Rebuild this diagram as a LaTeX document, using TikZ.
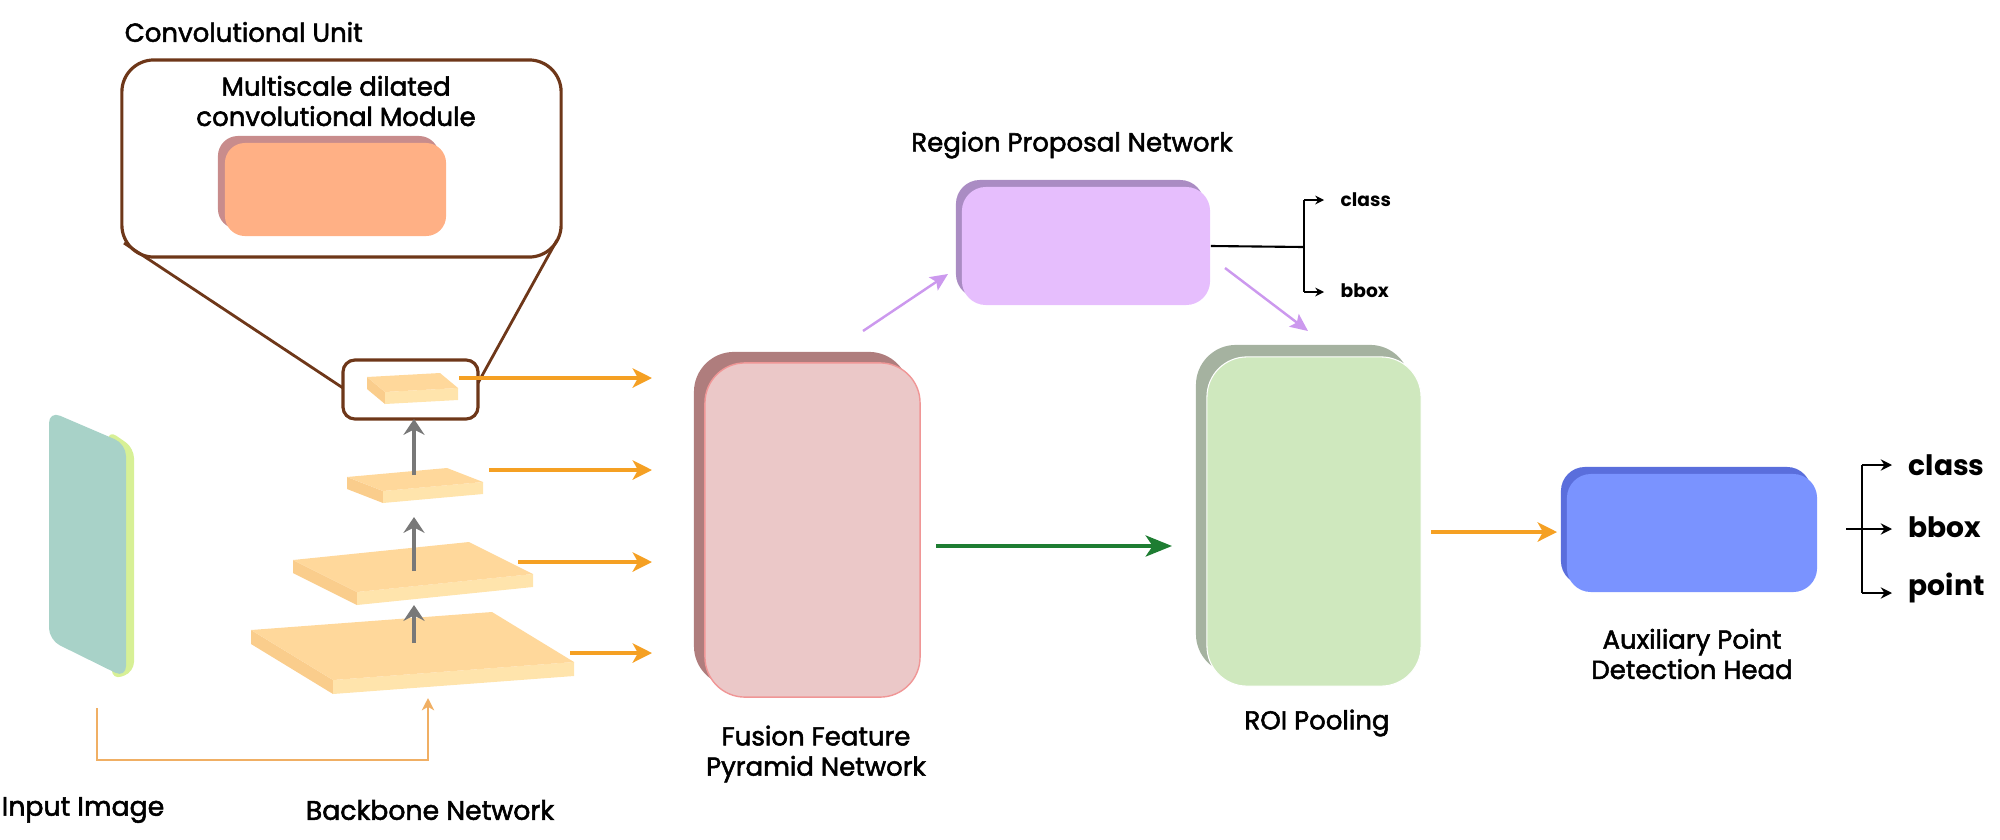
\documentclass[tikz,border=0pt]{standalone}
\usepackage{fontspec}
\setmainfont{Poppins}
\newfontfamily\medfont{Poppins}[FakeBold=2]
\usetikzlibrary{arrows.meta,calc}
\definecolor{brownl}{RGB}{110,55,25}
\definecolor{orarr}{RGB}{245,160,35}
\definecolor{orthin}{RGB}{240,175,100}
\definecolor{grayarr}{RGB}{120,120,120}
\definecolor{slabtop}{RGB}{255,216,155}
\definecolor{slabfront}{RGB}{255,228,172}
\definecolor{slabside}{RGB}{250,205,140}
\definecolor{teal}{RGB}{168,210,200}
\definecolor{tealedge}{RGB}{215,240,150}
\definecolor{convF}{RGB}{255,176,133}
\definecolor{convS}{RGB}{200,140,140}
\definecolor{ffpnF}{RGB}{235,200,200}
\definecolor{ffpnB}{RGB}{240,150,150}
\definecolor{ffpnS}{RGB}{175,125,125}
\definecolor{rpnF}{RGB}{230,190,253}
\definecolor{rpnS}{RGB}{170,140,195}
\definecolor{roiF}{RGB}{207,232,190}
\definecolor{roiS}{RGB}{165,178,160}
\definecolor{blueF}{RGB}{122,147,255}
\definecolor{blueS}{RGB}{90,110,220}
\definecolor{greenarr}{RGB}{30,125,50}
\definecolor{purparr}{RGB}{204,153,238}
\newcommand\myslab[8]{% name x y w k dx dy t
  \fill[slabside] (#2,#3) -- ({#2+#6},{#3+#7}) -- ({#2+#6},{#3+#7+#8}) -- (#2,{#3+#8}) -- cycle;
  \fill[slabfront] ({#2+#6},{#3+#7}) -- ({#2+#6+#4},{#3+#7-#5}) -- ({#2+#6+#4},{#3+#7-#5+#8}) -- ({#2+#6},{#3+#7+#8}) -- cycle;
  \fill[slabtop] (#2,#3) -- ({#2+#4},{#3-#5}) -- ({#2+#6+#4},{#3+#7-#5}) -- ({#2+#6},{#3+#7}) -- cycle;
  \coordinate (#1) at ({#2+#6/2+#4/2},{#3+#7/2-#5/2});
}
\begin{document}
\begin{tikzpicture}[x=0.01cm,y=-0.01cm,
  lbl/.style={font=\medfont\fontsize{7.4pt}{8.6pt}\selectfont, align=center, inner sep=0},
  outlbl/.style={font=\fontsize{8pt}{9pt}\selectfont\bfseries, anchor=west, inner sep=0},
  smalllbl/.style={font=\fontsize{5.3pt}{6pt}\selectfont\bfseries, anchor=west, inner sep=0},
  boxf/.style={inner sep=0, draw=none},
  oarr/.style={draw=orarr, line width=1.1pt, -{Stealth[length=5.5pt,width=5.5pt,inset=1.5pt]}},
  garr/.style={draw=grayarr, line width=0.9pt, -{Stealth[length=4.5pt,width=6pt,inset=1.5pt]}},
  parr/.style={draw=purparr, line width=0.7pt, -{Stealth[length=5pt,width=4.5pt,inset=1pt]}},
  barr/.style={draw=black, line width=0.6pt, -{Stealth[length=2.5pt,width=2.5pt]}},
  barrL/.style={draw=black, line width=0.7pt, -{Stealth[length=3.2pt,width=3.2pt]}}
]
\useasboundingbox (0,0) rectangle (2000,839);

% ---------- Convolutional unit ----------
\node[lbl, anchor=west] (cuLabel) at (124,32) {Convolutional Unit};
\node[boxf, draw=brownl, line width=0.9pt, rounded corners=0.32cm, minimum width=4.39cm, minimum height=1.97cm] (bigbox) at (341.5,158.5) {};
\node[lbl] (mdLabel) at (336,101) {Multiscale dilated\\convolutional Module};
\node[boxf, fill=convS, rounded corners=0.2cm, minimum width=2.21cm, minimum height=0.93cm] (convS) at (328.5,182.5) {};
\node[boxf, fill=convF, rounded corners=0.2cm, minimum width=2.21cm, minimum height=0.93cm] (conv) at (335.5,189.5) {};

% ---------- Backbone slabs ----------
\myslab{L1}{251}{630}{241}{18}{82}{50}{14}
\myslab{L2}{293}{560}{176}{18}{64}{32}{13}
\myslab{L3}{347}{477}{100}{9}{36}{14}{12}
\myslab{L4}{367}{377}{73}{4}{18}{15}{12}

\node[boxf, draw=brownl, line width=0.9pt, rounded corners=0.12cm, minimum width=1.35cm, minimum height=0.59cm] (smallbox) at (410.5,389.5) {};
\coordinate (bbL) at (124,243);
\coordinate (bbR) at (557,240);
\coordinate (sbL) at (343,388);
\coordinate (sbR) at (478,383);
\draw[brownl, line width=0.8pt] (bbL) -- (sbL);
\draw[brownl, line width=0.8pt] (bbR) -- (sbR);

% gray arrows
\coordinate (g1a) at (414,643); \coordinate (g1b) at (414,605);
\coordinate (g2a) at (414,571); \coordinate (g2b) at (414,517);
\coordinate (g3a) at (414,475); \coordinate (g3b) at (414,419);
\draw[garr] (g1a) -- (g1b);
\draw[garr] (g2a) -- (g2b);
\draw[garr] (g3a) -- (g3b);

% input image
\fill[tealedge, rounded corners=0.1cm] (108,430) -- (134,448) -- (134,672) -- (112,680) -- cycle;
\fill[teal, rounded corners=0.12cm] (49,411) -- (126,444) -- (126,678) -- (49,640) -- cycle;
\coordinate (inImg) at (97,708);
\coordinate (inBend1) at (97,760);
\coordinate (inBend2) at (428,760);
\coordinate (bbIn) at (428,698);
\draw[orthin, line width=0.55pt, -{Stealth[length=3.5pt,width=3.5pt,inset=1pt]}] (inImg) -- (inBend1) -- (inBend2) -- (bbIn);

\node[lbl, font=\medfont\fontsize{7.6pt}{9pt}\selectfont] (inLabel) at (83,810) {Input Image};
\node[lbl, font=\medfont\fontsize{7.6pt}{9pt}\selectfont] (bbLabel) at (430,810) {Backbone Network};

% ---------- FFPN ----------
\node[boxf, fill=ffpnS, rounded corners=0.4cm, minimum width=2.15cm, minimum height=3.34cm] (ffpnSh) at (801.5,519) {};
\node[boxf, fill=ffpnF, draw=ffpnB, line width=0.4pt, rounded corners=0.4cm, minimum width=2.15cm, minimum height=3.34cm] (ffpn) at (812.5,530) {};
\node[lbl] (ffpnLabel) at (816,754) {Fusion Feature\\Pyramid Network};

% orange arrows into FFPN
\coordinate (o1a) at (459,378); \coordinate (o1b) at (652,378);
\coordinate (o2a) at (489,470); \coordinate (o2b) at (652,470);
\coordinate (o3a) at (518,562); \coordinate (o3b) at (652,562);
\coordinate (o4a) at (570,653); \coordinate (o4b) at (652,653);
\draw[oarr] (o1a) -- (o1b);
\draw[oarr] (o2a) -- (o2b);
\draw[oarr] (o3a) -- (o3b);
\draw[oarr] (o4a) -- (o4b);

% ---------- RPN ----------
\node[lbl] (rpnLabel) at (1072,145) {Region Proposal Network};
\node[boxf, fill=rpnS, rounded corners=0.24cm, minimum width=2.48cm, minimum height=1.18cm] (rpnSh) at (1080,239) {};
\node[boxf, fill=rpnF, rounded corners=0.24cm, minimum width=2.48cm, minimum height=1.18cm] (rpn) at (1086,246) {};
\coordinate (p1a) at (863,331); \coordinate (p1b) at (948,274);
\coordinate (p2a) at (1225,268); \coordinate (p2b) at (1308,331);
\draw[parr] (p1a) -- (p1b);
\draw[parr] (p2a) -- (p2b);

\coordinate (rpnBr) at (1304,247);
\coordinate (rpnT) at (1304,200);
\coordinate (rpnB) at (1304,292);
\coordinate (rpnTe) at (1324,200);
\coordinate (rpnBe) at (1324,292);
\draw[black, line width=0.6pt] (rpn.east) -- (rpnBr);
\draw[black, line width=0.6pt] (rpnT) -- (rpnB);
\draw[barr] (rpnT) -- (rpnTe);
\draw[barr] (rpnB) -- (rpnBe);
\node[smalllbl] (rpnClass) at (1340,200) {class};
\node[smalllbl] (rpnBbox) at (1340,291) {bbox};

% ---------- ROI ----------
\node[boxf, fill=roiS, rounded corners=0.4cm, minimum width=2.14cm, minimum height=3.29cm] (roiSh) at (1303,509.5) {};
\node[boxf, fill=roiF, draw=white, line width=0.3pt, rounded corners=0.4cm, minimum width=2.14cm, minimum height=3.29cm] (roi) at (1314,521.5) {};
\node[lbl] (roiLabel) at (1317,723) {ROI Pooling};
\coordinate (gra) at (936,546);
\coordinate (grb) at (1172,546);
\draw[draw=greenarr, line width=1.1pt, -{Stealth[length=7.5pt,width=6pt,inset=2pt]}] (gra) -- (grb);

% ---------- Auxiliary head ----------
\node[boxf, fill=blueS, rounded corners=0.24cm, minimum width=2.5cm, minimum height=1.18cm] (blueSh) at (1686,526) {};
\node[boxf, fill=blueF, rounded corners=0.24cm, minimum width=2.5cm, minimum height=1.18cm] (blue) at (1692,533) {};
\node[lbl] (auxLabel) at (1692,654) {Auxiliary Point\\Detection Head};
\coordinate (o5a) at (1431,532); \coordinate (o5b) at (1557,532);
\draw[oarr] (o5a) -- (o5b);

\coordinate (hT) at (1862,465);
\coordinate (hB) at (1862,593);
\coordinate (hM0) at (1846,529);
\coordinate (hTe) at (1892,465);
\coordinate (hMe) at (1892,529);
\coordinate (hBe) at (1892,593);
\draw[black, line width=0.7pt] (hT) -- (hB);
\draw[barrL] (hT) -- (hTe);
\draw[barrL] (hM0) -- (hMe);
\draw[barrL] (hB) -- (hBe);
\node[outlbl] (hClass) at (1908,465) {class};
\node[outlbl] (hBbox) at (1908,527) {bbox};
\node[outlbl] (hPoint) at (1908,588) {point};
\end{tikzpicture}
\end{document}
